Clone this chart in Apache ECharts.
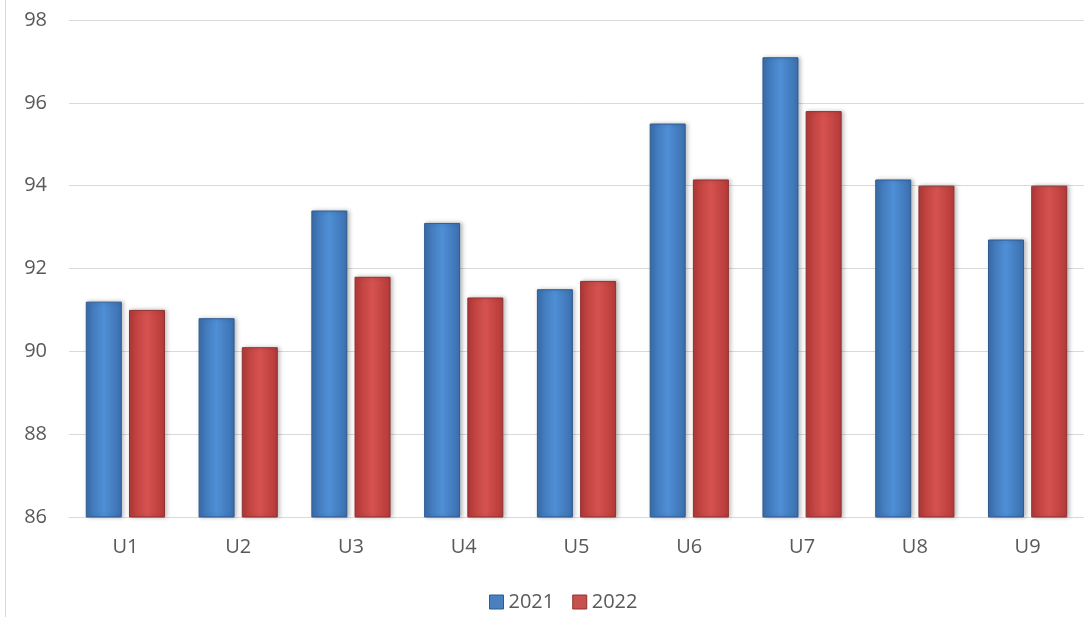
<!DOCTYPE html>
<html>
<head>
<meta charset="utf-8">
<script src="https://cdn.jsdelivr.net/npm/echarts@6/dist/echarts.min.js"></script>
<style>
html,body{margin:0;padding:0;background:#fff;}
#c{width:1084px;height:617px;}
</style>
</head>
<body>
<div id="c"></div>
<script>
const categories = ['U1','U2','U3','U4','U5','U6','U7','U8','U9'];
const series2021 = [91.2, 90.8, 93.4, 93.1, 91.5, 95.5, 97.1, 94.15, 92.7];
const series2022 = [91.0, 90.1, 91.8, 91.3, 91.7, 94.15, 95.8, 94.0, 94.0];
const yTicks = [86, 88, 90, 92, 94, 96, 98];

const font = '"Open Sans", Lato, sans-serif';
function grad(edge, mid) {
  return new echarts.graphic.LinearGradient(0, 0, 1, 0, [
    {offset: 0, color: edge},
    {offset: 0.5, color: mid},
    {offset: 1, color: edge}
  ]);
}
const blue = grad('#3b6fae', '#4f8fd6');
const red = grad('#b43a38', '#d65250');

const chart = echarts.init(document.getElementById('c'), null, {renderer: 'canvas'});
chart.setOption({
  animation: false,
  backgroundColor: '#fff',
  textStyle: {fontFamily: font},
  graphic: [{
    type: 'line', shape: {x1: 5.5, y1: 0, x2: 5.5, y2: 617},
    style: {stroke: '#d9d9d9', lineWidth: 1}, z: 100
  }],
  grid: {left: 69, right: 0, top: 20, bottom: 100, containLabel: false},
  legend: {
    left: 484, top: 587,
    itemWidth: 14, itemHeight: 14, itemGap: 18,
    icon: 'rect',
    textStyle: {fontSize: 20, color: '#595959', fontFamily: font},
    data: [
      {name: '2021', itemStyle: {color: '#4a7fc0', borderColor: '#2f5b8f', borderWidth: 1}},
      {name: '2022', itemStyle: {color: '#c8504d', borderColor: '#8f3230', borderWidth: 1}}
    ]
  },
  xAxis: {
    type: 'category',
    data: categories,
    axisLine: {lineStyle: {color: '#d9d9d9', width: 1}},
    axisTick: {show: false},
    axisLabel: {color: '#595959', fontSize: 20, margin: 20, fontFamily: font}
  },
  yAxis: {
    type: 'value',
    min: yTicks[0], max: yTicks[yTicks.length - 1], interval: 2,
    axisLine: {show: false},
    axisTick: {show: false},
    splitLine: {lineStyle: {color: '#d9d9d9', width: 1}},
    axisLabel: {color: '#595959', fontSize: 20, margin: 22, fontFamily: font}
  },
  series: [
    {
      name: '2021', type: 'bar', data: series2021,
      barWidth: 36, barGap: '20%',
      itemStyle: {color: blue, borderColor: '#2f5b8f', borderWidth: 1,
        shadowColor: 'rgba(0,0,0,0.25)', shadowBlur: 4, shadowOffsetX: 2, shadowOffsetY: 0}
    },
    {
      name: '2022', type: 'bar', data: series2022,
      barWidth: 36, barGap: '20%',
      itemStyle: {color: red, borderColor: '#8f3230', borderWidth: 1,
        shadowColor: 'rgba(0,0,0,0.25)', shadowBlur: 4, shadowOffsetX: 2, shadowOffsetY: 0}
    }
  ]
});
</script>
</body>
</html>
